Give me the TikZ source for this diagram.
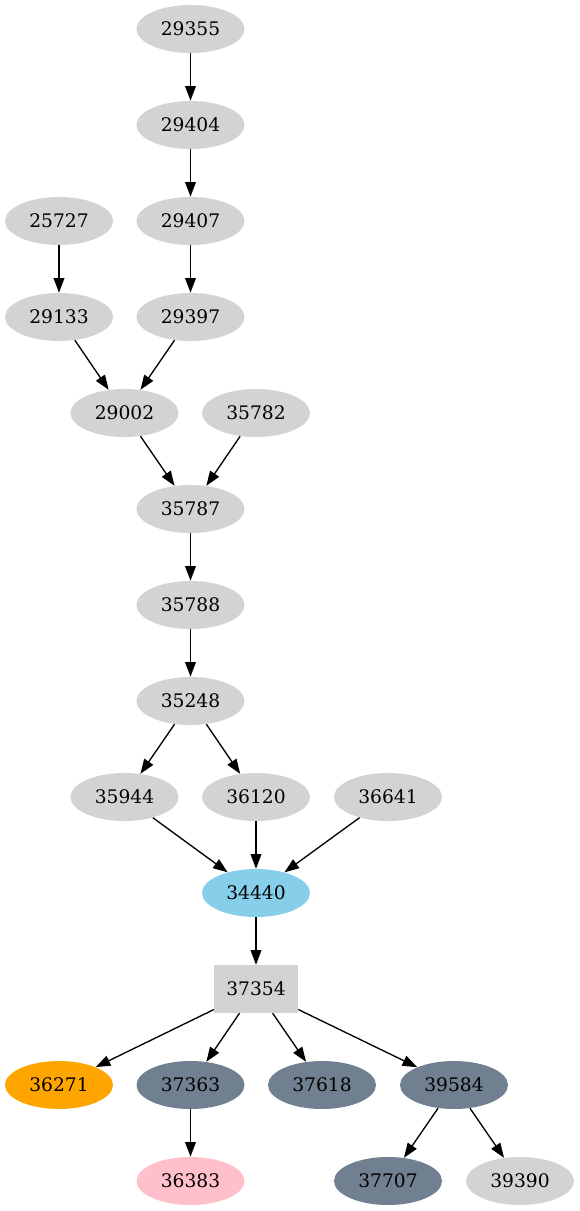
\documentclass[tikz,border=0pt]{standalone}
\usepackage{fontspec}
\setmainfont{DejaVu Serif}
\usetikzlibrary{arrows.meta}
\definecolor{lgray}{HTML}{D3D3D3}
\definecolor{sky}{HTML}{87CEEB}
\definecolor{orng}{HTML}{FFA500}
\definecolor{slate}{HTML}{708090}
\definecolor{pnk}{HTML}{FFC0CB}
\tikzset{
  el/.style={ellipse, fill=lgray, draw=none, minimum width=81pt, minimum height=36pt, inner sep=0pt, font=\fontsize{14pt}{16pt}\selectfont},
  bx/.style={rectangle, fill=lgray, draw=none, minimum width=63pt, minimum height=36pt, inner sep=0pt, font=\fontsize{14pt}{16pt}\selectfont},
  ed/.style={draw=black, line width=1pt, -{Triangle[length=11pt,width=8pt]}},
}
\usetikzlibrary{shapes.geometric}
\begin{document}
\begin{tikzpicture}[x=0.75pt,y=-0.75pt]
\useasboundingbox (0,0) rectangle (579,1211);
\def\cA{59}\def\cB{124.5}\def\cC{190.5}\def\cD{256}\def\cE{322}\def\cF{388}\def\cG{454}\def\cH{520}
\node[el] (n29355) at (\cC,29) {29355};
\node[el] (n29404) at (\cC,125) {29404};
\node[el] (n25727) at (\cA,221) {25727};
\node[el] (n29407) at (\cC,221) {29407};
\node[el] (n29133) at (\cA,317) {29133};
\node[el] (n29397) at (\cC,317) {29397};
\node[el] (n29002) at (\cB,413) {29002};
\node[el] (n35782) at (\cD,413) {35782};
\node[el] (n35787) at (\cC,509) {35787};
\node[el] (n35788) at (\cC,605) {35788};
\node[el] (n35248) at (\cC,701) {35248};
\node[el] (n35944) at (\cB,797) {35944};
\node[el] (n36120) at (\cD,797) {36120};
\node[el] (n36641) at (\cF,797) {36641};
\node[el, fill=sky] (n34440) at (\cD,893) {34440};
\node[bx] (n37354) at (\cD,989) {37354};
\node[el, fill=orng] (n36271) at (\cA,1085) {36271};
\node[el, fill=slate] (n37363) at (\cC,1085) {37363};
\node[el, fill=slate] (n37618) at (\cE,1085) {37618};
\node[el, fill=slate] (n39584) at (\cG,1085) {39584};
\node[el, fill=pnk] (n36383) at (\cC,1181) {36383};
\node[el, fill=slate] (n37707) at (\cF,1181) {37707};
\node[el] (n39390) at (\cH,1181) {39390};
\draw[ed] (n29355) -- (n29404);
\draw[ed] (n29404) -- (n29407);
\draw[ed] (n29407) -- (n29397);
\draw[ed] (n25727) -- (n29133);
\draw[ed] (n29133) -- (n29002);
\draw[ed] (n29397) -- (n29002);
\draw[ed] (n29002) -- (n35787);
\draw[ed] (n35782) -- (n35787);
\draw[ed] (n35787) -- (n35788);
\draw[ed] (n35788) -- (n35248);
\draw[ed] (n35248) -- (n35944);
\draw[ed] (n35248) -- (n36120);
\draw[ed] (n35944) -- (n34440);
\draw[ed] (n36120) -- (n34440);
\draw[ed] (n36641) -- (n34440);
\draw[ed] (n34440) -- (n37354);
\draw[ed] (n37354) -- (n36271);
\draw[ed] (n37354) -- (n37363);
\draw[ed] (n37354) -- (n37618);
\draw[ed] (n37354) -- (n39584);
\draw[ed] (n37363) -- (n36383);
\draw[ed] (n39584) -- (n37707);
\draw[ed] (n39584) -- (n39390);
\end{tikzpicture}
\end{document}
